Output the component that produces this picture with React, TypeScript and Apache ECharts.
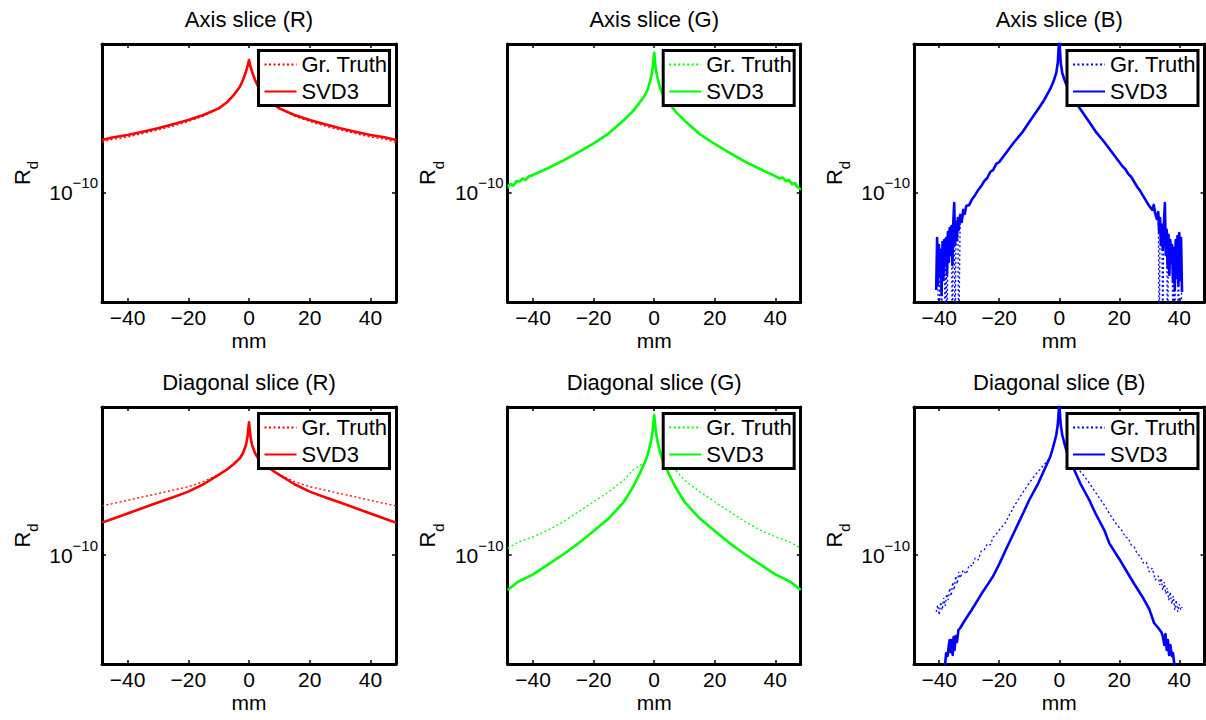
import React, { useEffect, useRef } from 'react';
import * as echarts from 'echarts';

const FONT = '"Liberation Sans", Arial, Helvetica, sans-serif';

// ---- axes ----
const X_MIN = -48.4;
const X_MAX = 48.4;
const Y_MIN = 2.089e-11; // 10^-10.68
const Y_MAX = 8.318e-10; // 10^-9.08
const X_TICKS = [-40, -20, 0, 20, 40];
const Y_TICK_EXPONENT = -10;

const PANEL_TITLES = [
  'Axis slice (R)', 'Axis slice (G)', 'Axis slice (B)',
  'Diagonal slice (R)', 'Diagonal slice (G)', 'Diagonal slice (B)',
];
const PANEL_COLORS = ['#ff0000', '#00ff00', '#0000ff', '#ff0000', '#00ff00', '#0000ff'];
const LEGEND_LABELS = ['Gr. Truth', 'SVD3'];

// ---- data: x in mm, y stored as log10(R_d) exponents ----
const X_SMOOTH = [-48.4, -45, -40, -35, -30, -25, -20, -15, -10, -7, -5, -3, -2, -1, -0.5, 0, 0.5, 1, 2, 3, 5, 7, 10, 15, 20, 25, 30, 35, 40, 45, 48.4];

const AXIS_R_GT_EXP = [-9.691, -9.672, -9.657, -9.635, -9.613, -9.589, -9.561, -9.527, -9.483, -9.438, -9.396, -9.345, -9.303, -9.252, -9.221, -9.179, -9.221, -9.252, -9.303, -9.345, -9.396, -9.438, -9.483, -9.527, -9.561, -9.589, -9.613, -9.635, -9.657, -9.672, -9.691];
const AXIS_R_SVD3_EXP = [-9.675, -9.660, -9.644, -9.624, -9.603, -9.578, -9.551, -9.520, -9.479, -9.438, -9.396, -9.345, -9.303, -9.252, -9.221, -9.179, -9.221, -9.252, -9.303, -9.345, -9.396, -9.438, -9.479, -9.520, -9.551, -9.578, -9.603, -9.624, -9.644, -9.660, -9.675];

const X_AXIS_G = [-48.4, -47.5, -46.5, -45.5, -44.5, -43.5, -42.5, -41.5, -40, -35, -30, -25, -20, -15, -10, -7, -5, -3, -2, -1, -0.5, 0, 0.5, 1, 2, 3, 5, 7, 10, 15, 20, 25, 30, 35, 40, 41.5, 42.5, 43.5, 44.5, 45.5, 46.5, 47.5, 48.4];
const AXIS_G_SVD3_EXP = [-9.965, -9.948, -9.958, -9.930, -9.933, -9.914, -9.923, -9.902, -9.892, -9.849, -9.802, -9.750, -9.696, -9.634, -9.551, -9.496, -9.448, -9.396, -9.355, -9.283, -9.231, -9.134, -9.231, -9.283, -9.355, -9.396, -9.448, -9.499, -9.554, -9.638, -9.700, -9.756, -9.809, -9.855, -9.899, -9.914, -9.908, -9.930, -9.923, -9.948, -9.942, -9.970, -9.981];
const AXIS_G_GT_EXP = [-9.975, -9.935, -9.895, -9.852, -9.805, -9.752, -9.698, -9.636, -9.552, -9.496, -9.448, -9.396, -9.355, -9.283, -9.231, -9.134, -9.231, -9.283, -9.355, -9.396, -9.448, -9.499, -9.555, -9.640, -9.702, -9.758, -9.811, -9.857, -9.902, -9.940, -9.985];

const X_AXIS_B = [-41.0, -40.7, -40.4, -40.1, -39.8, -39.5, -39.2, -38.9, -38.6, -38.3, -38.0, -37.7, -37.4, -37.1, -36.8, -36.5, -36.2, -35.9, -35.6, -35.3, -35.0, -34.7, -34.4, -34.1, -33.8, -33.5, -33.0, -32.5, -32.0, -31.5, -31.0, -30, -29, -28, -27, -26, -25, -24, -23, -22, -21, -20, -18, -15, -12, -10, -7, -5, -3, -2, -1, -0.5, 0, 0.5, 1, 2, 3, 5, 7, 10, 12, 15, 18, 20, 21, 22, 23, 24, 25, 26, 27, 28, 29, 30, 31, 31.5, 32.0, 32.5, 33.0, 33.3, 33.6, 33.9, 34.2, 34.5, 34.8, 35.2, 35.5, 35.8, 36.1, 36.4, 36.7, 37.0, 37.3, 37.6, 37.9, 38.2, 38.5, 38.8, 39.1, 39.4, 39.7, 40.0, 40.3, 40.6, 40.9];
const AXIS_B_SVD3_EXP = [
  -10.606, -10.283, -10.575, -10.327, -10.513, -10.358, -10.637, -10.308, -10.544, -10.296,
  -10.451, -10.283, -10.513, -10.246, -10.432, -10.221, -10.389, -10.209, -10.451, -10.184,
  -10.066, -10.327, -10.184, -10.296, -10.159, -10.233, -10.140, -10.184, -10.109, -10.134,
  -10.085, -10.078, -10.041, -10.016, -9.985, -9.961, -9.930, -9.911, -9.874, -9.861,
  -9.824, -9.812, -9.762, -9.688, -9.620, -9.564, -9.483, -9.427, -9.359, -9.316,
  -9.260, -9.198, -9.043,
  -9.198, -9.260, -9.316, -9.359, -9.427, -9.483, -9.564, -9.620, -9.688, -9.762,
  -9.812, -9.837, -9.855, -9.886, -9.905, -9.936, -9.967, -9.992, -10.023, -10.054,
  -10.085, -10.109, -10.078, -10.134, -10.165, -10.122, -10.246, -10.159, -10.327, -10.202,
  -10.358, -10.221, -10.066, -10.389, -10.233, -10.469, -10.264, -10.513, -10.296, -10.432,
  -10.327, -10.556, -10.345, -10.606, -10.296, -10.531, -10.271, -10.575, -10.252, -10.544,
  -10.283, -10.618,
];
const AXIS_B_GT_EXP = [
  -10.606, -10.283, -10.575, -11.0, -10.513, -10.358, -11.0, -10.308, -10.544, -10.296,
  -11.0, -10.283, -11.0, -10.246, -10.432, -10.221, -10.389, -10.209, -11.0, -10.184,
  -10.066, -11.0, -10.184, -10.296, -10.159, -11.0, -10.140, -10.184, -10.109, -10.134,
  -10.085, -10.078, -10.041, -10.016, -9.985, -9.961, -9.930, -9.911, -9.874, -9.861,
  -9.824, -9.812, -9.762, -9.688, -9.620, -9.564, -9.483, -9.427, -9.359, -9.316,
  -9.260, -9.198, -9.043,
  -9.198, -9.260, -9.316, -9.359, -9.427, -9.483, -9.564, -9.620, -9.688, -9.762,
  -9.812, -9.837, -9.855, -9.886, -9.905, -9.936, -9.967, -9.992, -10.023, -10.054,
  -10.085, -10.109, -10.078, -10.134, -10.165, -10.122, -11.0, -10.159, -10.327, -10.202,
  -11.0, -10.221, -10.066, -10.389, -10.233, -11.0, -10.264, -10.513, -10.296, -10.432,
  -10.327, -11.0, -10.345, -11.0, -10.296, -10.531, -10.271, -11.0, -10.252, -10.544,
  -10.283, -11.0,
];

const DIAG_R_GT_EXP = [-9.696, -9.682, -9.661, -9.640, -9.619, -9.597, -9.576, -9.545, -9.500, -9.463, -9.435, -9.399, -9.368, -9.317, -9.265, -9.175, -9.265, -9.317, -9.368, -9.399, -9.435, -9.463, -9.500, -9.545, -9.576, -9.597, -9.619, -9.640, -9.661, -9.682, -9.696];
const DIAG_R_SVD3_EXP = [-9.800, -9.777, -9.743, -9.709, -9.675, -9.642, -9.607, -9.561, -9.503, -9.466, -9.435, -9.399, -9.368, -9.317, -9.265, -9.175, -9.265, -9.317, -9.368, -9.399, -9.435, -9.466, -9.503, -9.561, -9.607, -9.642, -9.675, -9.709, -9.743, -9.777, -9.800];

const DIAG_G_GT_EXP = [-9.960, -9.922, -9.888, -9.846, -9.794, -9.732, -9.670, -9.607, -9.535, -9.472, -9.447, -9.421, -9.368, -9.286, -9.223, -9.130, -9.223, -9.286, -9.368, -9.421, -9.447, -9.472, -9.535, -9.607, -9.670, -9.732, -9.794, -9.846, -9.888, -9.922, -9.960];
const DIAG_G_SVD3_EXP = [-10.220, -10.168, -10.122, -10.060, -9.997, -9.929, -9.852, -9.773, -9.670, -9.578, -9.503, -9.421, -9.368, -9.286, -9.223, -9.130, -9.223, -9.286, -9.368, -9.421, -9.503, -9.578, -9.670, -9.773, -9.852, -9.929, -9.997, -10.060, -10.122, -10.168, -10.220];

const X_DIAG_B_GT = [-41, -40.5, -40, -39.5, -39, -38.5, -38, -37.5, -37, -36.5, -36, -35.5, -35, -34.5, -34, -33.5, -33, -32, -31, -30, -29, -28, -27, -26, -25, -24, -23, -22, -21, -20, -18, -15, -12, -10, -8, -6, -4, -3, -2, -1, -0.5, 0, 0.5, 1, 2, 3, 4, 6, 8, 10, 12, 15, 17, 19, 21, 22, 23, 24, 25, 26, 27, 28, 29, 30, 31, 32, 33, 33.5, 34, 34.5, 35, 35.5, 36, 36.5, 37, 37.5, 38, 38.5, 39, 39.5, 40, 40.5, 41];
const DIAG_B_GT_EXP = [
  -10.356, -10.313, -10.375, -10.294, -10.344, -10.269, -10.319, -10.244, -10.282, -10.207,
  -10.257, -10.170, -10.220, -10.132, -10.182, -10.107, -10.145, -10.095, -10.120, -10.064,
  -10.070, -10.020, -10.033, -9.977, -9.970, -9.933, -9.939, -9.890, -9.871, -9.846,
  -9.802, -9.696, -9.609, -9.553, -9.503, -9.460, -9.416, -9.390, -9.327, -9.254,
  -9.192, -9.061,
  -9.192, -9.254, -9.327, -9.390, -9.416, -9.460, -9.503, -9.553, -9.609, -9.690,
  -9.753, -9.809, -9.852, -9.890, -9.896, -9.939, -9.952, -9.995, -10.008, -10.051,
  -10.045, -10.107, -10.083, -10.157, -10.132, -10.188, -10.145, -10.220, -10.170, -10.244,
  -10.207, -10.282, -10.232, -10.307, -10.257, -10.344, -10.282, -10.356, -10.307, -10.344,
  -10.325,
];
const X_DIAG_B_SVD3 = [-38.6, -38.0, -37.7, -37.2, -36.8, -36.5, -36.2, -35.8, -35.5, -35.2, -34.9, -34.5, -34.1, -33.6, -33.0, -31.4, -29.2, -25.8, -23.6, -22, -20, -18, -15, -12, -10, -7, -5, -3, -2, -1, -0.5, 0, 0.5, 1, 2, 3, 5, 7, 10, 12, 15, 16.7, 20, 22.2, 25, 27.7, 30, 31.6, 33, 34, 34.5, 35, 35.4, 35.8, 36.2, 36.6, 37, 37.5, 37.9, 38.3, 38.8];
const DIAG_B_SVD3_EXP = [
  -10.9, -10.676, -10.614, -10.630, -10.562, -10.531, -10.606, -10.531, -10.624, -10.512,
  -10.593, -10.506, -10.543, -10.469, -10.456, -10.406, -10.344, -10.240, -10.178, -10.132,
  -10.058, -9.977, -9.858, -9.740, -9.659, -9.555, -9.472, -9.390, -9.327, -9.254,
  -9.192, -9.061,
  -9.192, -9.254, -9.327, -9.390, -9.472, -9.555, -9.659, -9.740, -9.846, -9.929,
  -10.026, -10.095, -10.182, -10.261, -10.338, -10.425, -10.456, -10.481, -10.506, -10.562,
  -10.493, -10.593, -10.531, -10.624, -10.562, -10.630, -10.612, -10.676, -10.9,
];

// ---- layout (pixels) ----
const GRIDS = [
  { left: 102, top: 44, width: 294, height: 258 },
  { left: 507.7, top: 44, width: 293, height: 258 },
  { left: 914, top: 44, width: 290.5, height: 258 },
  { left: 102, top: 407, width: 294, height: 257 },
  { left: 507.7, top: 407, width: 293, height: 257 },
  { left: 914, top: 407, width: 290.5, height: 257 },
];

const PANEL_DATA = [
  { gtX: X_SMOOTH, gt: AXIS_R_GT_EXP, svdX: X_SMOOTH, svd: AXIS_R_SVD3_EXP },
  { gtX: X_SMOOTH, gt: AXIS_G_GT_EXP, svdX: X_AXIS_G, svd: AXIS_G_SVD3_EXP },
  { gtX: X_AXIS_B, gt: AXIS_B_GT_EXP, svdX: X_AXIS_B, svd: AXIS_B_SVD3_EXP },
  { gtX: X_SMOOTH, gt: DIAG_R_GT_EXP, svdX: X_SMOOTH, svd: DIAG_R_SVD3_EXP },
  { gtX: X_SMOOTH, gt: DIAG_G_GT_EXP, svdX: X_SMOOTH, svd: DIAG_G_SVD3_EXP },
  { gtX: X_DIAG_B_GT, gt: DIAG_B_GT_EXP, svdX: X_DIAG_B_SVD3, svd: DIAG_B_SVD3_EXP },
];

const toPairs = (xs: number[], exps: number[]) => xs.map((x, i) => [x, Math.pow(10, exps[i])]);

const fmtX = (v: number) => (X_TICKS.includes(v) ? (v < 0 ? '\u2212' + Math.abs(v) : String(v)) : '');
const fmtY = (v: number) =>
  Math.abs(Math.log10(v) - Y_TICK_EXPONENT) < 1e-6
    ? '{b|10}{s|' + (Y_TICK_EXPONENT < 0 ? '\u2212' : '') + Math.abs(Y_TICK_EXPONENT) + '}'
    : '';

function buildOption() {
  const black = '#000';
  const axisLine = { show: true, onZero: false, lineStyle: { color: black, width: 3 } };
  const axisTick = { show: true, inside: true, length: 4, lineStyle: { color: black, width: 1.5 } };
  const xAxis: any[] = [];
  const yAxis: any[] = [];
  const series: any[] = [];
  const legend: any[] = [];
  const title: any[] = [];

  GRIDS.forEach((g, i) => {
    xAxis.push({
      type: 'value', gridIndex: i, position: 'bottom', min: X_MIN, max: X_MAX,
      axisLine, axisTick, splitLine: { show: false },
      axisLabel: { showMinLabel: false, showMaxLabel: false, margin: 5, fontSize: 21, color: black, fontFamily: FONT, formatter: fmtX },
      name: 'mm', nameLocation: 'middle', nameGap: 28,
      nameTextStyle: { fontSize: 21, color: black, fontFamily: FONT },
    });
    xAxis.push({
      type: 'value', gridIndex: i, position: 'top', min: X_MIN, max: X_MAX,
      axisLine, axisTick, splitLine: { show: false }, axisLabel: { show: false },
    });
    yAxis.push({
      type: 'log', logBase: 10, gridIndex: i, position: 'left', min: Y_MIN, max: Y_MAX,
      axisLine, axisTick, splitLine: { show: false }, minorTick: { show: false },
      axisLabel: {
        showMinLabel: false, showMaxLabel: false, margin: 4, formatter: fmtY, padding: [0, 0, 6, 0],
        rich: {
          b: { fontSize: 21, color: black, fontFamily: FONT, verticalAlign: 'bottom' },
          s: { fontSize: 15, color: black, fontFamily: FONT, verticalAlign: 'bottom', padding: [0, 0, 13, 0] },
        },
      },
      name: '{r|R}{d|d}', nameLocation: 'middle', nameGap: 62, nameRotate: 90,
      nameTextStyle: {
        rich: {
          r: { fontSize: 22, color: black, fontFamily: FONT, verticalAlign: 'top' },
          d: { fontSize: 15, color: black, fontFamily: FONT, verticalAlign: 'top', padding: [14, 0, 0, 0] },
        },
      },
    });
    yAxis.push({
      type: 'log', logBase: 10, gridIndex: i, position: 'right', min: Y_MIN, max: Y_MAX,
      axisLine, axisTick, splitLine: { show: false }, axisLabel: { show: false },
    });

    const d = PANEL_DATA[i];
    const color = PANEL_COLORS[i];
    const gtName = 'gt' + i;
    const svdName = 'svd' + i;
    series.push({
      type: 'line', name: gtName, xAxisIndex: 2 * i, yAxisIndex: 2 * i,
      data: toPairs(d.gtX, d.gt), symbol: 'none', showSymbol: false, z: 2,
      itemStyle: { color }, lineStyle: { color, width: 1.3, type: [2, 2.5] },
    });
    series.push({
      type: 'line', name: svdName, xAxisIndex: 2 * i, yAxisIndex: 2 * i,
      data: toPairs(d.svdX, d.svd), symbol: 'none', showSymbol: false, z: 3,
      itemStyle: { color }, lineStyle: { color, width: 2.6, join: 'round' },
    });

    legend.push({
      data: [gtName, svdName], orient: 'vertical', selectedMode: false,
      left: g.left + g.width - 137.5, top: g.top + 6.5,
      formatter: (n: string) => (n.startsWith('gt') ? LEGEND_LABELS[0] : LEGEND_LABELS[1]),
      itemWidth: 32, itemHeight: 12, itemGap: 5,
      itemStyle: { opacity: 0 },
      backgroundColor: '#fff', borderColor: black, borderWidth: 3, borderRadius: 0,
      padding: [3, 2, 3, 5],
      textStyle: { fontSize: 22, color: black, fontFamily: FONT },
    });

    title.push({
      text: PANEL_TITLES[i], left: g.left + g.width / 2, top: g.top - 36, textAlign: 'center', padding: 0,
      textStyle: { fontSize: 22, fontWeight: 'normal', color: black, fontFamily: FONT },
    });
  });

  return {
    animation: false,
    backgroundColor: '#fff',
    textStyle: { fontFamily: FONT },
    grid: GRIDS.map((g) => ({ ...g, show: false, containLabel: false })),
    title, legend, xAxis, yAxis, series,
  };
}

export default function App() {
  const ref = useRef<HTMLDivElement>(null);
  useEffect(() => {
    if (!ref.current) return;
    const chart = echarts.init(ref.current, null, { renderer: 'svg' });
    chart.setOption(buildOption() as any);
    return () => chart.dispose();
  }, []);
  return <div ref={ref} style={{ position: 'absolute', left: 0, top: 0, width: 1206, height: 720 }} />;
}
